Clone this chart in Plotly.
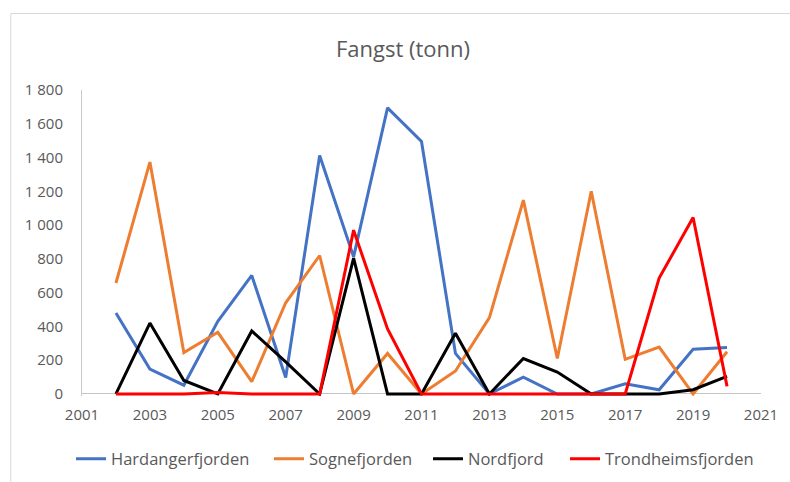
import plotly.graph_objects as go

years = list(range(2002, 2021))
hardanger = [480, 148, 52, 430, 702, 98, 1412, 812, 1694, 1495, 240, 0, 100, 0, 0, 60, 25, 265, 275]
sogne = [657, 1373, 245, 365, 73, 540, 820, 0, 240, 0, 136, 452, 1148, 210, 1200, 205, 278, 0, 250]
nord = [0, 420, 80, 0, 373, 190, 0, 805, 0, 0, 360, 0, 210, 130, 0, 0, 0, 25, 104]
trondheim = [0, 0, 0, 8, 0, 0, 0, 970, 385, 0, 0, 0, 0, 0, 0, 0, 686, 1045, 45]

series = [
    ("Hardangerfjorden", hardanger, "#4472C4"),
    ("Sognefjorden", sogne, "#ED7D31"),
    ("Nordfjord", nord, "#000000"),
    ("Trondheimsfjorden", trondheim, "#FF0000"),
]
legend_x_px = [71, 269, 428, 565]

FONT = "Open Sans"
GRAY = "#595959"
W, H = 790, 482

fig = go.Figure()
layout_legends = {}
for i, ((name, vals, col), lx) in enumerate(zip(series, legend_x_px)):
    key = "legend" if i == 0 else f"legend{i+1}"
    fig.add_trace(go.Scatter(x=years, y=vals, mode="lines", name=name,
                             line=dict(color=col, width=3), cliponaxis=False,
                             legend=key))
    layout_legends[key] = dict(orientation="h", x=lx / W, xref="container", xanchor="left",
                               y=1 - 459 / H, yref="container", yanchor="middle",
                               font=dict(family=FONT, size=16.5, color=GRAY),
                               bgcolor="rgba(0,0,0,0)", borderwidth=0)

ml, mr, mt = 82, 26, 90
plot_h = 306
mb = H - mt - plot_h

fig.update_layout(
    width=W, height=H,
    margin=dict(l=ml, r=mr, t=mt, b=mb),
    paper_bgcolor="white", plot_bgcolor="white",
    separators=", ",
    font=dict(family=FONT, color=GRAY, size=15),
    title=dict(text="Fangst (tonn)", x=403 / W, xref="container", xanchor="center",
               y=1 - 49 / H, yref="container", yanchor="middle",
               font=dict(family=FONT, size=22, color=GRAY)),
    xaxis=dict(range=[2001, 2021], tickmode="linear", tick0=2001, dtick=2,
               showgrid=False, zeroline=False, showline=False,
               ticklabelstandoff=8, tickfont=dict(size=15, color=GRAY)),
    yaxis=dict(range=[-12, 1800], tickmode="linear", tick0=0, dtick=200,
               tickformat=",d", showgrid=False,
               zeroline=True, zerolinecolor="#c4c4c4", zerolinewidth=1,
               showline=True, linecolor="#c8c8c8", linewidth=1,
               ticklabelstandoff=15, tickfont=dict(size=15, color=GRAY)),
    showlegend=True,
    **layout_legends,
)

pw = W - ml - mr
fig.add_shape(type="rect", xref="paper", yref="paper",
              x0=(10.5 - ml) / pw, x1=(W + 6 - ml) / pw,
              y0=-(mb + 6) / plot_h, y1=1 + (mt - 13.5) / plot_h,
              line=dict(color="#d9d9d9", width=1), fillcolor="rgba(0,0,0,0)", layer="below")

fig.write_html("out.html", config={"displayModeBar": False},
               post_script="document.body.style.margin='0';document.body.style.overflow='hidden';")
